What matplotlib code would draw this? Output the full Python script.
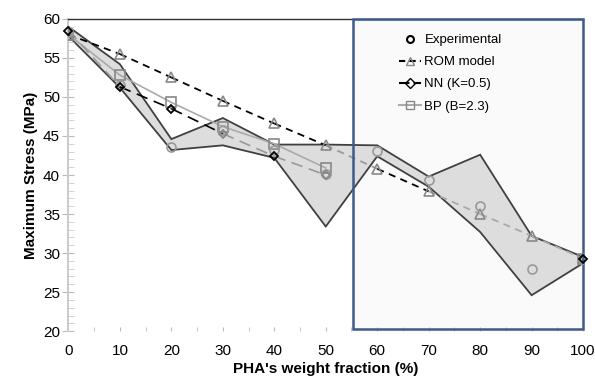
import numpy as np
import matplotlib.pyplot as plt
from matplotlib.patches import Rectangle
from matplotlib.lines import Line2D
from matplotlib.ticker import MultipleLocator

plt.rcParams['font.family'] = ['Liberation Sans', 'DejaVu Sans']

# données
x = [0, 10, 20, 30, 40, 50, 60, 70, 80, 90, 100]
experimental = [58.3, 51.5, 43.6, 45.8, 43.2, 40.1, 43.1, 39.3, 36.0, 28.0, 29.2]
rom = [58.0, 55.5, 52.5, 49.5, 46.6, 43.8, 40.8, 37.9, 35.0, 32.2, 29.3]
nn = [58.5, 51.3, 48.5, 45.3, 42.4, 40.0, np.nan, np.nan, np.nan, np.nan, 29.2]
bp = [58.0, 52.8, 49.3, 46.2, 44.0, 40.9, np.nan, np.nan, np.nan, np.nan, 29.3]
band_upper = [59.0, 54.2, 44.6, 47.3, 43.9, 43.9, 43.8, 39.8, 42.6, 32.2, 29.5]
band_lower = [57.8, 51.2, 43.2, 43.8, 42.2, 33.4, 42.4, 38.5, 32.7, 24.6, 28.7]

# couleurs par segment (gris / noir comme sur l'original)
rom_colors = ['black'] * 5 + ['#999999', 'black'] + ['#aaaaaa'] * 3
nn_colors = ['#999999', 'black', 'black', '#999999', '#999999'] + ['none'] * 5
nn_marker_colors = ['black', 'black', 'black', '#888888', 'black', '#888888',
                    'none', 'none', 'none', 'none', 'black']


def seg_plot(ax, xs, ys, colors, **kw):
    for i in range(len(xs) - 1):
        if colors[i] == 'none':
            continue
        ax.plot(xs[i:i + 2], ys[i:i + 2], color=colors[i], **kw)


fig = plt.figure(figsize=(5.95, 3.78), dpi=100)
ax = fig.add_axes([0.115, 0.124, 0.865, 0.826])

# cadre bleu (zone mise en évidence)
ax.add_patch(Rectangle((55.2, 20.3), 44.8, 39.7, facecolor='#fafafa',
                       edgecolor='none', zorder=0, clip_on=False))
ax.add_patch(Rectangle((55.2, 20.3), 44.8, 39.7, facecolor='none',
                       edgecolor='#3d5a8a', linewidth=1.8, zorder=4, clip_on=False))

# bande grise
poly_x = list(x) + list(x[::-1])
poly_y = list(band_upper) + list(band_lower[::-1])
ax.fill(poly_x, poly_y, facecolor='#dddddd', edgecolor='#404040',
        linewidth=1.3, zorder=1, closed=True)

# lignes
seg_plot(ax, x, rom, rom_colors, linestyle=(0, (4, 3)), linewidth=1.3, zorder=3)
seg_plot(ax, x, nn, nn_colors, linestyle=(0, (7, 4)), linewidth=1.2, zorder=3)
ax.plot(x, bp, color='#aaaaaa', linewidth=1.2, zorder=2)

# marqueurs
ax.plot(x, rom, linestyle='none', marker='^', markersize=6.5, markerfacecolor='none',
        markeredgecolor='#888888', markeredgewidth=1.2, zorder=5)
ax.plot(x, bp, linestyle='none', marker='s', markersize=6.5, markerfacecolor='none',
        markeredgecolor='#888888', markeredgewidth=1.2, zorder=5)
ax.plot(x, experimental, linestyle='none', marker='o', markersize=6.5, markerfacecolor='none',
        markeredgecolor='#999999', markeredgewidth=1.2, zorder=5)
for xi, yi, ci in zip(x, nn, nn_marker_colors):
    if ci == 'none':
        continue
    ax.plot([xi], [yi], linestyle='none', marker='D', markersize=4, markerfacecolor='none',
            markeredgecolor=ci, markeredgewidth=1.3, zorder=6, clip_on=False)

ax.set_xlim(0, 100)
ax.set_ylim(20, 60)
ax.xaxis.set_major_locator(MultipleLocator(10))
ax.xaxis.set_minor_locator(MultipleLocator(5))
ax.yaxis.set_major_locator(MultipleLocator(5))
ax.yaxis.set_minor_locator(MultipleLocator(1))

for s in ['right', 'bottom']:
    ax.spines[s].set_visible(False)
ax.spines['top'].set_color('#333333')
ax.spines['top'].set_linewidth(1.0)
ax.spines['left'].set_color('#cccccc')
ax.spines['left'].set_linewidth(1.5)

ax.tick_params(axis='y', which='major', direction='inout', length=8, color='#bbbbbb',
               labelsize=11, pad=2)
ax.tick_params(axis='y', which='minor', direction='in', length=4, color='#cccccc')
ax.tick_params(axis='x', which='both', direction='in', length=3, color='#bbbbbb',
               labelsize=11, pad=9)

ax.set_xlabel("PHA's weight fraction (%)", fontsize=11, fontweight='bold', labelpad=3)
ax.set_ylabel('Maximum Stress (MPa)', fontsize=11, fontweight='bold', labelpad=4)

handles = [
    Line2D([], [], linestyle='none', marker='o', markersize=5, markerfacecolor='none',
           markeredgecolor='black', markeredgewidth=1.5),
    Line2D([], [], color='black', linestyle=(0, (3, 2)), marker='^', markersize=6,
           markerfacecolor='none', markeredgecolor='#888888'),
    Line2D([], [], color='black', linestyle=(0, (5, 2)), marker='D', markersize=5,
           markerfacecolor='none', markeredgecolor='black'),
    Line2D([], [], color='#aaaaaa', marker='s', markersize=6,
           markerfacecolor='none', markeredgecolor='#888888'),
]
labels = ['Experimental', 'ROM model', 'NN (K=0.5)', 'BP (B=2.3)']
leg = ax.legend(handles, labels, loc='upper left', bbox_to_anchor=(0.62, 0.99),
                frameon=False, fontsize=9.5, handlelength=1.6, handletextpad=0.3,
                labelspacing=0.75)
leg.set_zorder(7)

fig.savefig('out.png', dpi=100)
